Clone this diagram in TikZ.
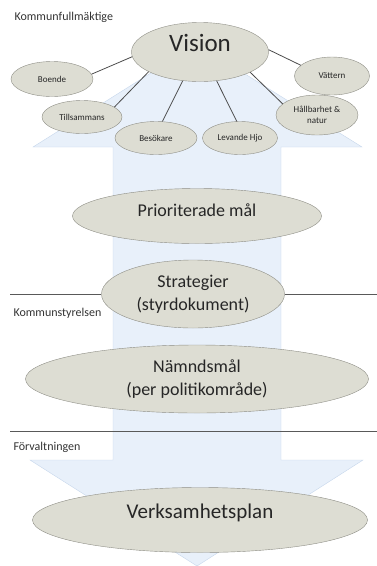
\documentclass[tikz,border=0pt]{standalone}
\usepackage{fontspec}
\setmainfont{Carlito}
\usetikzlibrary{shapes.geometric,positioning}
\definecolor{ovalfill}{HTML}{DDDDD3}
\definecolor{ovaldraw}{HTML}{8E8E86}
\definecolor{arrowfill}{HTML}{E8F0FA}
\definecolor{arrowdraw}{HTML}{C6D7EB}
\tikzset{
  oval/.style={ellipse,draw=ovaldraw,fill=ovalfill,inner sep=0pt,align=center,text=black!85},
  small/.style={oval,font=\fontsize{9}{11}\selectfont},
  mid/.style={oval,font=\fontsize{18}{23}\selectfont},
  big/.style={oval,font=\fontsize{25}{28}\selectfont},
  level/.style={anchor=west,font=\fontsize{12}{14}\selectfont,text=black!80},
  divider/.style={draw=black!65,line width=0.9pt},
  spoke/.style={draw=black!70,line width=0.8pt},
}

\begin{document}
\begin{tikzpicture}[x=1pt,y=-1pt]
\useasboundingbox (0,0) rectangle (377,566);
% the double arrow behind everything
\coordinate (up) at (197,44);
\coordinate (down) at (197,566);
\filldraw[fill=arrowfill,draw=arrowdraw] (up) -- (362,147) -- (281,147) -- (281,460)
  -- (363,460) -- (down) -- (30,460) -- (113,460) -- (113,147) -- (33,147) -- cycle;
% levels
\node[level] (kf) at (11,17) {Kommunfullmäktige};
\node[level] (ks) at (10,313) {Kommunstyrelsen};
\node[level] (fv) at (10,447) {Förvaltningen};
% vision and its parts
\node[big,minimum width=137pt,minimum height=59pt,text height=16pt,text depth=18pt] (vision) at (200,52) {Vision};
\node[small,minimum width=82pt,minimum height=35pt] (boende) at (52,79) {Boende};
\node[small,minimum width=80pt,minimum height=33pt] (tills) at (82,117) {Tillsammans};
\node[small,minimum width=82pt,minimum height=33pt] (besok) at (156,138) {Besökare};
\node[small,minimum width=75pt,minimum height=33pt] (hjo) at (240,138) {Levande Hjo};
\node[small,minimum width=82pt,minimum height=40pt] (natur) at (317,115) {Hållbarhet \&\\natur};
\node[small,minimum width=75pt,minimum height=38pt] (vattern) at (332,76) {Vättern};
\draw[spoke] (vision.184) -- (boende.7);
\draw[spoke] (vision.201) -- (tills.17);
\draw[spoke] (vision.239) -- (besok.69);
\draw[spoke] (vision.300) -- (hjo.101);
\draw[spoke] (vision.338) -- (natur.162);
\draw[spoke] (vision.2) -- (vattern.161);
% goals down the arrow
\node[mid,minimum width=249pt,minimum height=55pt,text height=14pt,text depth=14pt] (prio) at (197,216) {Prioriterade mål};
\node[mid,minimum width=183pt,minimum height=68pt] (strat) at (193,294) {Strategier\\(styrdokument)};
\coordinate (l1) at (10,294);
\coordinate (r1) at (377,294);
\draw[divider] (l1) -- (strat.west);
\draw[divider] (strat.east) -- (r1);
\node[mid,minimum width=343pt,minimum height=68pt] (namnd) at (197,379) {Nämndsmål\\(per politikområde)};
\coordinate (l2) at (10,431);
\coordinate (r2) at (377,431);
\draw[divider] (l2) -- (r2);
\node[oval,font=\fontsize{21}{25}\selectfont,minimum width=335pt,minimum height=65pt,text height=14pt,text depth=18pt] (plan) at (200,520) {Verksamhetsplan};
\end{tikzpicture}
\end{document}
